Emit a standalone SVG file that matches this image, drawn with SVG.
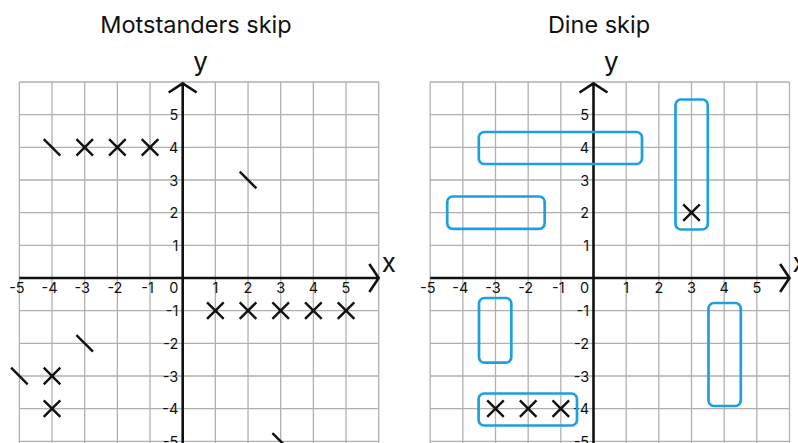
<svg xmlns="http://www.w3.org/2000/svg" width="798" height="443" viewBox="0 0 798 443">
<defs>
<style>
.grid{stroke:#b0b0b0;stroke-width:1.3;fill:none}
.axis{stroke:#111;stroke-width:2.6;fill:none}
.mk{stroke:#111;stroke-width:2.4;fill:none}
.blue{stroke:#1e9fe0;stroke-width:2.7;fill:none}
.t{font-family:Inter,"Liberation Sans",sans-serif;fill:#111}
.title{font-size:23.5px;text-anchor:middle}
.tk{font-size:14.5px}
.ax{font-size:26px}
</style>
<path id="gridlines" d="M-163.33,-196V165M-130.67,-196V165M-98,-196V165M-65.33,-196V165M-32.67,-196V165M32.67,-196V165M65.33,-196V165M98,-196V165M130.67,-196V165M163.33,-196V165M196,-196V165M-163.33,-196H196M-163.33,-163.33H196M-163.33,-130.67H196M-163.33,-98H196M-163.33,-65.33H196M-163.33,-32.67H196M-163.33,32.67H196M-163.33,65.33H196M-163.33,98H196M-163.33,130.67H196M-163.33,163.33H196"/>
<path id="axes" d="M-163.33,0H196M186.6,-14L196,0L186.6,14M0,165V-194.7M-14,-185.5L0,-194.7L14,-185.5"/>
<g id="ticks">
<text class="t tk" x="-165.8" y="15.3" text-anchor="middle">-5</text>
<text class="t tk" x="-133.2" y="15.3" text-anchor="middle">-4</text>
<text class="t tk" x="-100.5" y="15.3" text-anchor="middle">-3</text>
<text class="t tk" x="-67.8" y="15.3" text-anchor="middle">-2</text>
<text class="t tk" x="-35.2" y="15.3" text-anchor="middle">-1</text>
<text class="t tk" x="-4.4" y="15.3" text-anchor="end">0</text>
<text class="t tk" x="32.67" y="15.3" text-anchor="middle">1</text>
<text class="t tk" x="65.33" y="15.3" text-anchor="middle">2</text>
<text class="t tk" x="98" y="15.3" text-anchor="middle">3</text>
<text class="t tk" x="130.67" y="15.3" text-anchor="middle">4</text>
<text class="t tk" x="163.33" y="15.3" text-anchor="middle">5</text>
<text class="t tk" x="-4.4" y="-157.8" text-anchor="end">5</text>
<text class="t tk" x="-4.4" y="-125.2" text-anchor="end">4</text>
<text class="t tk" x="-4.4" y="-92.5" text-anchor="end">3</text>
<text class="t tk" x="-4.4" y="-59.8" text-anchor="end">2</text>
<text class="t tk" x="-4.4" y="-27.2" text-anchor="end">1</text>
<text class="t tk" x="-4.4" y="38.2" text-anchor="end">-1</text>
<text class="t tk" x="-4.4" y="70.8" text-anchor="end">-2</text>
<text class="t tk" x="-4.4" y="103.5" text-anchor="end">-3</text>
<text class="t tk" x="-4.4" y="136.2" text-anchor="end">-4</text>
<text class="t tk" x="-4.4" y="168.8" text-anchor="end">-5</text>
<text class="t ax" x="199" y="-6.3">x</text>
<text class="t ax" x="10.6" y="-207">y</text>
</g>
<path id="X" d="M-8.3,-8.3L8.3,8.3M-8.3,8.3L8.3,-8.3"/>
<path id="S" d="M-8.3,-8.3L8.3,8.3"/>
</defs>

<g id="left-panel" transform="translate(182.7,278)">
<use href="#gridlines" class="grid"/>
<use href="#axes" class="axis"/>
<use href="#ticks"/>
<g id="left-marks" class="mk">
<use href="#X" x="-98" y="-130.67"/>
<use href="#X" x="-65.33" y="-130.67"/>
<use href="#X" x="-32.67" y="-130.67"/>
<use href="#X" x="32.67" y="32.67"/>
<use href="#X" x="65.33" y="32.67"/>
<use href="#X" x="98" y="32.67"/>
<use href="#X" x="130.67" y="32.67"/>
<use href="#X" x="163.33" y="32.67"/>
<use href="#X" x="-130.67" y="98"/>
<use href="#X" x="-130.67" y="130.67"/>
<use href="#S" x="-130.67" y="-130.67"/>
<use href="#S" x="65.33" y="-98"/>
<use href="#S" x="-98" y="65.33"/>
<use href="#S" x="-163.33" y="98"/>
<use href="#S" x="98" y="163.33"/>
</g>
</g>

<g id="right-panel" transform="translate(593.5,278)">
<use href="#gridlines" class="grid"/>
<use href="#axes" class="axis"/>
<use href="#ticks"/>
<g id="right-marks" class="mk">
<use href="#X" x="98" y="-65.33"/>
<use href="#X" x="-98" y="130.67"/>
<use href="#X" x="-65.33" y="130.67"/>
<use href="#X" x="-32.67" y="130.67"/>
</g>
<g id="groups" class="blue">
<rect id="g1" x="-114.7" y="-146" width="163.2" height="32" rx="5.5"/>
<rect id="g2" x="-146.3" y="-81.5" width="97.5" height="32.3" rx="5.5"/>
<rect id="g3" x="82" y="-178.5" width="32.3" height="130" rx="5.5"/>
<rect id="g4" x="-114.5" y="20" width="32.3" height="64.7" rx="5.5"/>
<rect id="g5" x="-114.9" y="115.5" width="98.4" height="32" rx="5.5"/>
<rect id="g6" x="115" y="25" width="32.3" height="103" rx="5.5"/>
</g>
</g>

<text id="title-left" class="t title" x="196" y="33.3">Motstanders skip</text>
<text id="title-right" class="t title" x="599" y="33.3">Dine skip</text>
</svg>
